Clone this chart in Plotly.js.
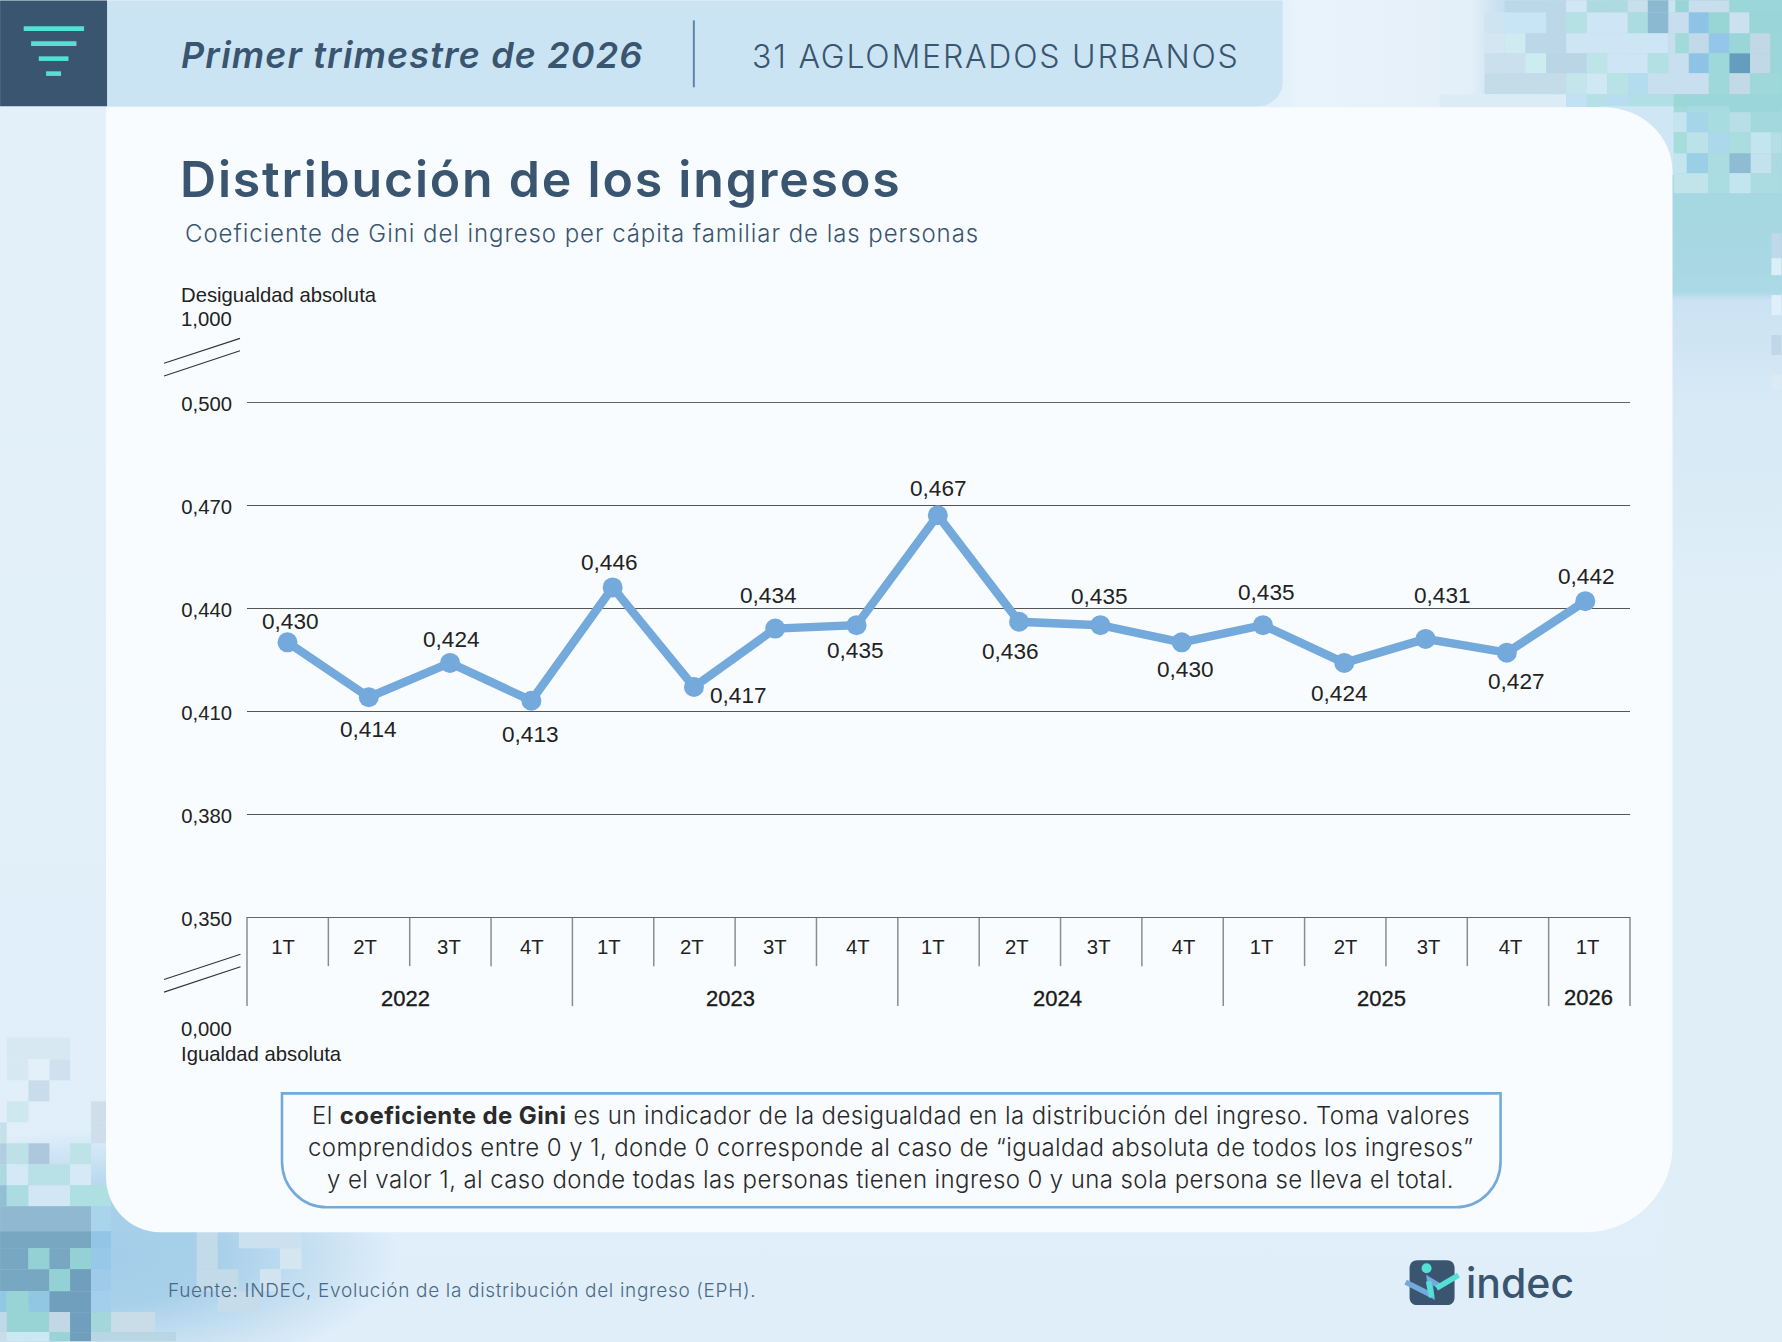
<!DOCTYPE html>
<html lang="es">
<head>
<meta charset="utf-8">
<title>Distribución de los ingresos</title>
<script src="https://cdn.plot.ly/plotly-3.0.1.min.js"></script>
<style>
html,body{margin:0;padding:0;width:1782px;height:1342px;overflow:hidden}
body{background-color:#e0eef9;background-repeat:no-repeat;background-image:
 linear-gradient(90deg,rgba(233,243,251,0) 0,rgba(233,243,251,0) 1283px,#e9f3fb 1300px,#e4f0f9 1470px,#c8e0ef 1500px,#bcdcea 1567px,#9ad6da 1782px),
 linear-gradient(180deg,#a2d8df 107px,#a7d8e3 250px,#acd9e6 292px,#cbe2f3 300px,#d6e9f5 400px,#e0eef8 600px),
 radial-gradient(ellipse 300px 125px at 100px 1255px,#a3cde9 0,#a8d0ea 40%,rgba(224,238,249,0) 100%),
 linear-gradient(180deg,#e4f1fa 0,#e0eef9 100%);
 background-size:100% 107px,120px 100%,100% 100%,100% 100%;
 background-position:0 0,right 0,0 0,0 0}
.gtitle{letter-spacing:1.8px}
text.annotation-text[data-unformatted^="Primer"]{letter-spacing:1.15px}
text.annotation-text[data-unformatted^="31 AGLOM"]{letter-spacing:1.8px}
text.annotation-text[data-unformatted^="Coeficiente"]{letter-spacing:.94px}
text.annotation-text[data-unformatted^="El "],
text.annotation-text[data-unformatted^="comprendidos"],
text.annotation-text[data-unformatted^="y el valor"]{letter-spacing:.4px}
text.annotation-text[data-unformatted^="Fuente"]{letter-spacing:.67px}
text.annotation-text[data-unformatted^="202"]{stroke:#1a1a1a;stroke-width:.35px}
</style>
</head>
<body>
<div id="chart" style="width:1782px;height:1342px"></div>
<script>
// ---- data ----
const quarters = ["1T","2T","3T","4T","1T","2T","3T","4T","1T","2T","3T","4T","1T","2T","3T","4T","1T"];
const years = ["2022","2023","2024","2025","2026"];
const gini = [0.430,0.414,0.424,0.413,0.446,0.417,0.434,0.435,0.467,0.436,0.435,0.430,0.435,0.424,0.431,0.427,0.442];
const xPositions = [0,1,2,3,4,5,6,7,8,9,10,11,12,13,14,15,15.965];
const yTicks = [0.35,0.38,0.41,0.44,0.47,0.50];
const yTickLabels = ["0,350","0,380","0,410","0,440","0,470","0,500"];

// ---- placement (pixels on the 1782x1342 page) ----
const W=1782,H=1342,L=247,R=1630.5,T=402,B=917.5;
const px=x=>(x-L)/(R-L), py=y=>(B-y)/(B-T);
const labelOffsets=[[3,-21],[0,32],[1,-23],[-1,34],[-3,-25],[45,9],[-7,-33],[-1,25],[1,-27],[-9,30],[-1,-29],[4,27],[4,-33],[-5,31],[17,-43],[10,29],[1,-25]];
const quarterTickPx=[283,365,449,532,609,692,775,858,933,1017,1099,1184,1262,1346,1429,1511,1588];
const yearLabelPx=[406,731,1058,1382,1589];
const scale=81.32, x0=287.5;
const xd=p=>(p-x0)/scale;

const shapes=[];
const rect=(x0,y0,x1,y1,c)=>shapes.push({type:'rect',layer:'below',xref:'paper',yref:'paper',x0:px(x0),x1:px(x1),y0:py(y0),y1:py(y1),fillcolor:c,line:{width:0}});
const seg=(x0,y0,x1,y1,c,w)=>shapes.push({type:'line',layer:'below',xref:'paper',yref:'paper',x0:px(x0),x1:px(x1),y0:py(y0),y1:py(y1),line:{color:c,width:w}});
const P=(x,y)=>px(x).toFixed(5)+','+py(y).toFixed(5);
const path=(d,fill,lc,lw)=>shapes.push({type:'path',layer:'below',xref:'paper',yref:'paper',path:d,fillcolor:fill,line:{color:lc||'rgba(0,0,0,0)',width:lw||0}});

// mosaic, top right: [zoomX0, zoomX1, colour] per row
const row=(y0,y1,cells)=>cells.forEach(c=>rect(1440+c[0]/3,y0,1440+c[1]/3,y1,c[2]));
row(0,12,[[195,380,'#bcd8e8'],[380,442,'#d2e7f5'],[442,565,'#aedbe0'],[565,625,'#c9e0eb'],[625,687,'#8bb9d1'],[687,708,'#cbe4f0'],[708,748,'#98d5d7'],[748,870,'#c8deee'],[870,1026,'#9ad6da']]);
row(12,33,[[135,195,'#cee4f0'],[195,320,'#c8e5f5'],[320,380,'#bcd7e7'],[380,442,'#b5e1e5'],[442,565,'#cde5f4'],[565,625,'#abdcdf'],[625,687,'#8bb9d1'],[687,748,'#c8deee'],[748,808,'#8fc3e6'],[808,870,'#98d5d5'],[870,930,'#cbe1ef'],[930,1026,'#9ad5da']]);
row(33,53,[[135,195,'#d3e6f1'],[195,258,'#cfebf1'],[258,380,'#bcd7e7'],[380,687,'#cde5f4'],[687,708,'#c8deee'],[708,748,'#a0dad9'],[748,808,'#c0daea'],[808,870,'#93c6e9'],[870,932,'#9ad6d7'],[932,993,'#c2d8e6'],[993,1026,'#9ad6da']]);
row(53,73,[[135,258,'#cae0ec'],[258,320,'#ccecf1'],[320,442,'#bad6e6'],[442,503,'#bce4e9'],[503,625,'#cde5f4'],[625,687,'#b3e1e3'],[687,748,'#c8dfef'],[748,808,'#8fc3e6'],[808,870,'#9ed8d9'],[870,932,'#639ebf'],[932,993,'#c2d8e6'],[993,1026,'#9ad6da']]);
row(73,94,[[135,380,'#c4dbe8'],[380,442,'#c2e6eb'],[442,503,'#cfe8f2'],[503,565,'#b9e2e5'],[565,625,'#b3ddef'],[625,808,'#c8dff0'],[808,870,'#9ed8d9'],[870,932,'#c3dae6'],[932,1026,'#9ed8d9']]);
row(94,107,[[0,380,'#dcecf7'],[380,442,'#c2e2f3'],[442,503,'#b4e1e6'],[503,565,'#b8ddf0'],[565,703,'#b0dfe6'],[703,1026,'#9ad6da']]);
row(106,175,[[480,703,'#cfe6f4']]);
row(106,112,[[703,743,'#a1dad9'],[743,870,'#a8dae1'],[870,1026,'#9ad6da']]);
row(112,132,[[703,742,'#c4e4ee'],[742,806,'#a4d5e8'],[806,870,'#a8dde0'],[870,934,'#b8dfe8'],[934,1026,'#a2d8de']]);
row(132,153,[[703,742,'#a4ddda'],[742,806,'#bae2e8'],[806,870,'#abd8ea'],[870,934,'#aaddde'],[934,995,'#c3e5ed'],[995,1026,'#b5dee6']]);
row(153,173,[[703,742,'#c4e4ee'],[742,806,'#9acfe6'],[806,870,'#abdde0'],[870,934,'#8ebcd3'],[934,995,'#c4e2ed'],[995,1026,'#add9e3']]);
row(173,193,[[703,806,'#c0e4ea'],[806,870,'#a9dde1'],[870,934,'#c3e6ee'],[934,1026,'#aadce1']]);
rect(1772,233,1782,258,'#c0d8ea');rect(1772,258,1782,275,'#dceef6');rect(1772,295,1782,315,'#e0eff9');rect(1772,335,1782,355,'#bfd7e8');rect(1772,375,1782,390,'#dbeaf5');

// mosaic, bottom left
const rowB=(y0,y1,cells)=>cells.forEach(c=>rect(c[0]/3,y0,c[1]/3,y1,c[2]));
rowB(1038,1060,[[20,210,'#d8e8f3']]);
rowB(1060,1081,[[20,85,'#d8e8f3'],[85,148,'#e3f0f9'],[148,210,'#d0e0ee']]);
rowB(1081,1102,[[85,148,'#c9dcec']]);
rowB(1102,1123,[[20,85,'#cde8ee'],[273,333,'#cedfea']]);
rowB(1123,1144,[[0,20,'#c4e1ea'],[273,333,'#cedfea']]);
rowB(1144,1165,[[0,20,'#b2cde0'],[20,85,'#bde1e7'],[85,148,'#adc8dd'],[210,273,'#bde3e8']]);
rowB(1165,1186,[[0,20,'#acd9e0'],[20,85,'#d3e9f5'],[85,210,'#b8e0e7'],[210,273,'#d5eaf6']]);
rowB(1186,1207,[[0,20,'#93bed3'],[20,85,'#acdce2'],[85,210,'#d2e6f4'],[210,333,'#aee0e2']]);
rowB(1207,1232,[[0,273,'#90b8d0'],[273,333,'#aad4ec']]);
rowB(1232,1249,[[0,273,'#78a7c2'],[273,333,'#93c5e6']]);
rowB(1249,1270,[[0,85,'#78a7c2'],[85,148,'#93d1d5'],[148,210,'#78a7c2'],[210,273,'#93d1d5'],[273,333,'#97c8e8']]);
rowB(1270,1292,[[0,148,'#78a7c2'],[148,210,'#93d1d5'],[210,273,'#6f9fbc'],[273,333,'#9ecbea']]);
rowB(1292,1313,[[0,20,'#92c7e4'],[20,85,'#98d4d6'],[85,148,'#92c7e4'],[148,273,'#6f9fbc'],[273,333,'#a4cfec']]);
rowB(1313,1333,[[0,20,'#bfd9e9'],[20,148,'#98d4d6'],[148,210,'#c3d8e6'],[210,273,'#6f9fbc'],[273,333,'#a3d7da'],[333,465,'#c9dde9']]);
rowB(1333,1342,[[0,20,'#c9dde9'],[20,148,'#cbe9f2'],[148,210,'#98d4d6'],[210,273,'#6f9fbc'],[273,528,'#b9d6e4']]);
rowB(1232,1270,[[590,653,'#c3dbe9']]);
rowB(1232,1249,[[717,905,'#cce1ef']]);
rowB(1249,1270,[[840,905,'#d4e6f0']]);
rowB(1270,1292,[[590,715,'#c3dbe9'],[780,843,'#d2e4ef']]);
rowB(1292,1313,[[653,780,'#c6dcea']]);

// white panel
const panelC='#f9fcff';
path(`M ${P(106,107)} L ${P(1603,107)} C ${P(1643,107)} ${P(1673,136)} ${P(1673,172)} L ${P(1673,1147)} C ${P(1673,1194)} ${P(1634,1233)} ${P(1586,1233)} L ${P(160,1233)} C ${P(130,1233)} ${P(106,1208)} ${P(106,1178)} Z`,panelC);

// header
path(`M ${P(107,0)} L ${P(1283,0)} L ${P(1283,82)} C ${P(1283,95)} ${P(1272,106)} ${P(1258,106)} L ${P(107,106)} Z`,'#cbe4f3');
rect(0,0,107,106,'#3a556f');
[[23.6,84,28.3],[31,76.4,43.3],[38.7,68.4,58.3],[46,61,73.3]].forEach(b=>rect(b[0],b[2]-2.3,b[1],b[2]+2.3,'#54e0d6'));
seg(694,20,694,87,'#5d85ab',2);

// top gridline sits on the plot edge
shapes.push({type:'line',layer:'below',xref:'paper',yref:'y',x0:0,x1:1,y0:yTicks[yTicks.length-1],y1:yTicks[yTicks.length-1],line:{color:'#333',width:1.4}});

// y-axis break marks
const ink='#333333';
seg(164,363.3,240,338.3,ink,1.1);seg(164,376,240,350.7,ink,1.1);
seg(164,980,240.5,954.7,ink,1.1);seg(164,992.7,240.5,967.3,ink,1.1);

// dividers of the quarter/year table
for(let i=0;i<=17;i++){const xx=i/17,long=(i%4===0)||i===17;
 shapes.push({type:'line',layer:'below',xref:'paper',yref:'paper',x0:xx,x1:xx,y0:0,y1:py(long?1006.7:966.7),line:{color:'#8c8c8c',width:1.5}});}

// note box
path(`M ${P(282,1094)} L ${P(1501,1094)} L ${P(1501,1162)} C ${P(1501,1188)} ${P(1481,1208)} ${P(1456,1208)} L ${P(327,1208)} C ${P(302,1208)} ${P(282,1188)} ${P(282,1162)} Z`,'rgba(0,0,0,0)','#74a9dc',2.6);

// logo
path(`M ${P(1418,1261)} L ${P(1447,1261)} C ${P(1452,1261)} ${P(1455,1264)} ${P(1455,1269)} L ${P(1455,1298)} C ${P(1455,1303)} ${P(1452,1306)} ${P(1447,1306)} L ${P(1418,1306)} C ${P(1413,1306)} ${P(1410,1303)} ${P(1410,1298)} L ${P(1410,1269)} C ${P(1410,1264)} ${P(1413,1261)} ${P(1418,1261)} Z`,'#3a556f');
shapes.push({type:'circle',layer:'below',xref:'paper',yref:'paper',x0:px(1422),x1:px(1432),y0:py(1264),y1:py(1274),fillcolor:'#54e0d6',line:{width:0}});
path(`M ${P(1406,1283)} L ${P(1432,1296)} L ${P(1430,1281)} L ${P(1440,1287)}`,'rgba(0,0,0,0)','#74a9dc',5.5);
path(`M ${P(1432,1298)} L ${P(1429,1282)} M ${P(1437,1289)} L ${P(1459,1276)}`,'rgba(0,0,0,0)','#54e0d6',5.5);

// text
const sans='"Liberation Sans",Arial,sans-serif', display='Inter,"Noto Sans",sans-serif';
const note=(x,y,text,font,opts)=>Object.assign({xref:'paper',yref:'paper',x:px(x),y:py(y),text,showarrow:false,xanchor:'left',yanchor:'middle',align:'left',font,borderpad:0},opts||{});
const mid={xanchor:'center',align:'center'};
const navy='#3a556f';
const f=(family,size,color,extra)=>Object.assign({family,size,color},extra||{});
const annotations=[
 note(180,55,'Primer trimestre de 2026',f(display,36,navy,{weight:600,style:'italic'})),
 note(751,56,'31 AGLOMERADOS URBANOS',f(display,32,navy,{weight:300})),
 note(184,233,'Coeficiente de Gini del ingreso per cápita familiar de las personas',f(display,24,navy,{weight:300})),
 note(180,295,'Desigualdad absoluta',f(sans,20.3,'#222')),
 note(180,319,'1,000',f(sans,20.3,'#222')),
 note(180,1030,'0,000',f(sans,20.3,'#222')),
 note(180,1055,'Igualdad absoluta',f(sans,20.3,'#222')),
 note(891,1116.5,'El <b>coeficiente de Gini</b> es un indicador de la desigualdad en la distribución del ingreso. Toma valores',f(display,24,'#2a2a2a',{weight:300}),mid),
 note(891,1148,'comprendidos entre 0 y 1, donde 0 corresponde al caso de “igualdad absoluta de todos los ingresos”',f(display,24,'#2a2a2a',{weight:300}),mid),
 note(891,1180,'y el valor 1, al caso donde todas las personas tienen ingreso 0 y una sola persona se lleva el total.',f(display,24,'#2a2a2a',{weight:300}),mid),
 note(167,1291,'Fuente: INDEC, Evolución de la distribución del ingreso (EPH).',f(display,19,'#4a6a85',{weight:300})),
 note(1465,1284,'indec',f(display,41,navy,{weight:500}))
];
years.forEach((y,i)=>annotations.push({xref:'x',yref:'paper',x:xd(yearLabelPx[i]),y:py(i===4?998:999),text:y,showarrow:false,xanchor:'center',yanchor:'middle',font:f(sans,22,'#1a1a1a')}));
gini.forEach((v,i)=>annotations.push({xref:'x',yref:'y',x:xPositions[i],y:v,text:v.toFixed(3).replace('.',','),showarrow:false,xanchor:'center',yanchor:'middle',xshift:labelOffsets[i][0],yshift:-labelOffsets[i][1],font:f(sans,22.6,'#222')}));

const trace={type:'scatter',mode:'lines+markers',x:xPositions,y:gini,cliponaxis:false,hoverinfo:'skip',
 line:{color:'#74a9dc',width:8.5,shape:'linear'},marker:{color:'#74a9dc',size:20}};

const layout={width:W,height:H,autosize:false,showlegend:false,
 paper_bgcolor:'rgba(0,0,0,0)',plot_bgcolor:'rgba(0,0,0,0)',
 margin:{l:L,r:W-R,t:T,b:H-B,pad:0},
 title:{text:'Distribución de los ingresos',x:180/W,xanchor:'left',xref:'container',y:1-179/H,yanchor:'middle',yref:'container',font:f(display,50,navy,{weight:600})},
 xaxis:{range:[xd(L),xd(R)],tickmode:'array',tickvals:quarterTickPx.map(xd),ticktext:quarters,showgrid:false,zeroline:false,showline:true,linecolor:'#666',linewidth:1,ticks:'',ticklabelstandoff:12,tickfont:f(sans,20.3,'#222'),tickangle:0,fixedrange:true},
 yaxis:{range:[0.35,0.5],tickmode:'array',tickvals:yTicks,ticktext:yTickLabels,showgrid:true,gridcolor:'#555',gridwidth:1,zeroline:false,showline:false,ticks:'',ticklabelstandoff:14,ticklabelshift:2,tickfont:f(sans,20.3,'#222'),fixedrange:true},
 shapes,annotations};
Plotly.newPlot('chart',[trace],layout,{staticPlot:true,displayModeBar:false,responsive:false});
</script>
</body>
</html>
